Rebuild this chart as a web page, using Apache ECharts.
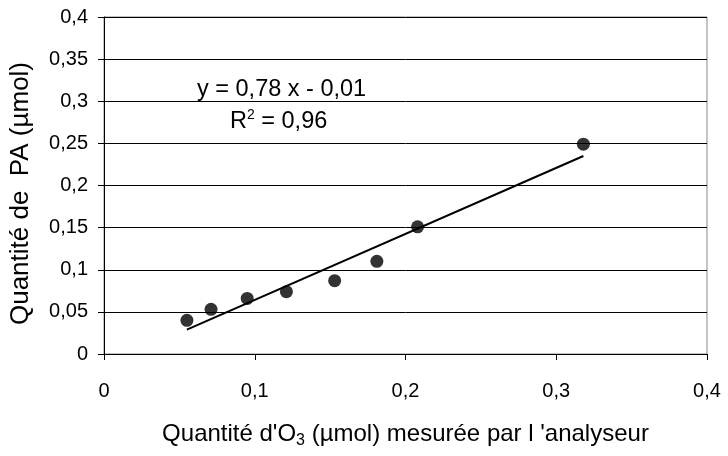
<!DOCTYPE html>
<html>
<head>
<meta charset="utf-8">
<script src="https://cdn.jsdelivr.net/npm/echarts@6/dist/echarts.min.js"></script>
<style>
  html, body { margin: 0; padding: 0; background: #fff; }
  #chart { width: 728px; height: 456px; }
</style>
</head>
<body>
<div id="chart"></div>
<script>
  // measured points (x: O3 from analyser, y: PA)
  const o3Values = [0.055, 0.071, 0.095, 0.121, 0.153, 0.181, 0.208, 0.318]
  const paValues = [0.040, 0.053, 0.066, 0.074, 0.087, 0.110, 0.151, 0.249]
  // linear trend line ends
  const trendX = [0.055, 0.318]
  const trendY = [0.029, 0.235]
  const equationText = 'y = 0,78 x - 0,01'
  const r2Value = '0,96'

  const comma = v => String(+v.toFixed(2)).replace('.', ',')

  const chart = echarts.init(document.getElementById('chart'))
  const font = 'Liberation Sans, Arial, sans-serif'

  chart.setOption({
    animation: false,
    grid: {
      left: 104, right: 21, top: 17, bottom: 102,
      show: true, borderColor: '#888', borderWidth: 1
    },
    xAxis: {
      type: 'value', min: 0, max: 0.4, interval: 0.1,
      name: "Quantité d'O{sub|3} (µmol) mesurée par l 'analyseur",
      nameLocation: 'middle', nameGap: 66,
      nameTextStyle: {
        fontFamily: font, fontSize: 24, color: '#000',
        rich: { sub: { fontFamily: font, fontSize: 16, color: '#000', padding: [13, 0, 0, 0] } }
      },
      axisLine: { show: true, lineStyle: { color: '#000', width: 1 } },
      axisTick: { show: true, length: 6, lineStyle: { color: '#000' } },
      axisLabel: { margin: 27, fontFamily: font, fontSize: 20, color: '#000', formatter: comma },
      splitLine: { show: false }
    },
    yAxis: {
      type: 'value', min: 0, max: 0.4, interval: 0.05,
      name: 'Quantité de  PA (µmol)',
      nameLocation: 'middle', nameGap: 70,
      nameTextStyle: { fontFamily: font, fontSize: 26, color: '#000', padding: [0, 16, 0, 0] },
      axisLine: { show: true, lineStyle: { color: '#000', width: 1 } },
      axisTick: { show: true, length: 6, lineStyle: { color: '#000' } },
      axisLabel: { margin: 16, fontFamily: font, fontSize: 20, color: '#000', formatter: comma },
      splitLine: { show: true, lineStyle: { color: '#000', width: 1 } }
    },
    series: [
      {
        type: 'scatter',
        symbol: 'circle',
        symbolSize: 13,
        itemStyle: { color: '#000' },
        data: o3Values.map((x, i) => [x, paValues[i]]),
        z: 3
      },
      {
        type: 'line',
        showSymbol: false,
        symbol: 'none',
        lineStyle: { color: '#000', width: 2 },
        data: trendX.map((x, i) => [x, trendY[i]]),
        z: 2
      }
    ],
    graphic: [
      {
        type: 'text', left: 197, top: 78,
        style: { text: equationText, font: '23.5px ' + font, fill: '#000' }
      },
      {
        type: 'text', left: 230, top: 108,
        style: {
          text: 'R{sup|2} = ' + r2Value,
          font: '23.5px ' + font, fill: '#000',
          rich: { sup: { fontFamily: font, fontSize: 14, fill: '#000', padding: [0, 0, 13, 0] } }
        }
      }
    ]
  })
</script>
</body>
</html>
